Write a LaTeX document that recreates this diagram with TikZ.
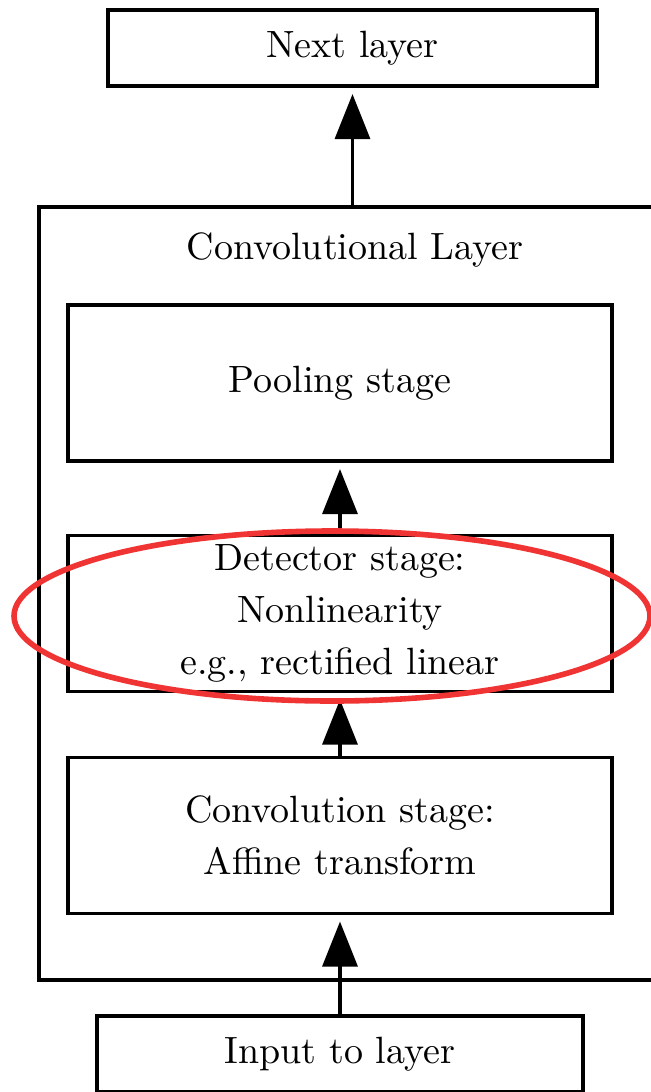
\documentclass[tikz,border=0pt]{standalone}
\usetikzlibrary{arrows.meta}
\definecolor{markred}{RGB}{240,52,52}
\begin{document}
\begin{tikzpicture}[x=0.25pt,y=-0.25pt,
  font=\fontsize{9.5}{13}\selectfont,
  box/.style={draw,line width=0.85pt,rectangle,inner sep=0pt,align=center},
  stagebox/.style={box,minimum width=136pt,minimum height=39pt},
  arr/.style={line width=0.85pt,-{Triangle[length=11.25pt,width=8.75pt]},shorten >=1.6pt}]
  \useasboundingbox (0,0) rectangle (651,1092);
  \clip (0,0) rectangle (651,1092);

  % outer layer frame and its title
  \node[box,minimum width=153.75pt,minimum height=193.25pt] (layer) at (346.5,593.5) {};
  \node (title) at (355,250) {Convolutional Layer};

  % neighbouring layers
  \node[box,minimum width=122.25pt,minimum height=19pt] (next) at (352.5,48) {Next layer};
  \node[box,minimum width=121.5pt,minimum height=19pt] (input) at (340,1054) {Input to layer};

  % the three stages
  \node[stagebox] (pool) at (340,383) {Pooling stage};
  \node[stagebox] (detect) at (340,613.5) {Detector stage:\\Nonlinearity\\e.g., rectified linear};
  \node[stagebox] (conv) at (340,835.5) {Convolution stage:\\Affine transform};

  % data flow
  \draw[arr] (next.south |- layer.north) -- (next.south);
  \draw[arr] (detect.north) -- (pool.south);
  \draw[arr] (conv.north) -- (detect.south);
  \draw[arr] (input.north) -- (conv.south);

  % highlight around the detector stage
  \draw[markred,line width=1.4pt] (332,616) ellipse [x radius=79.5pt,y radius=21.25pt];
\end{tikzpicture}
\end{document}
